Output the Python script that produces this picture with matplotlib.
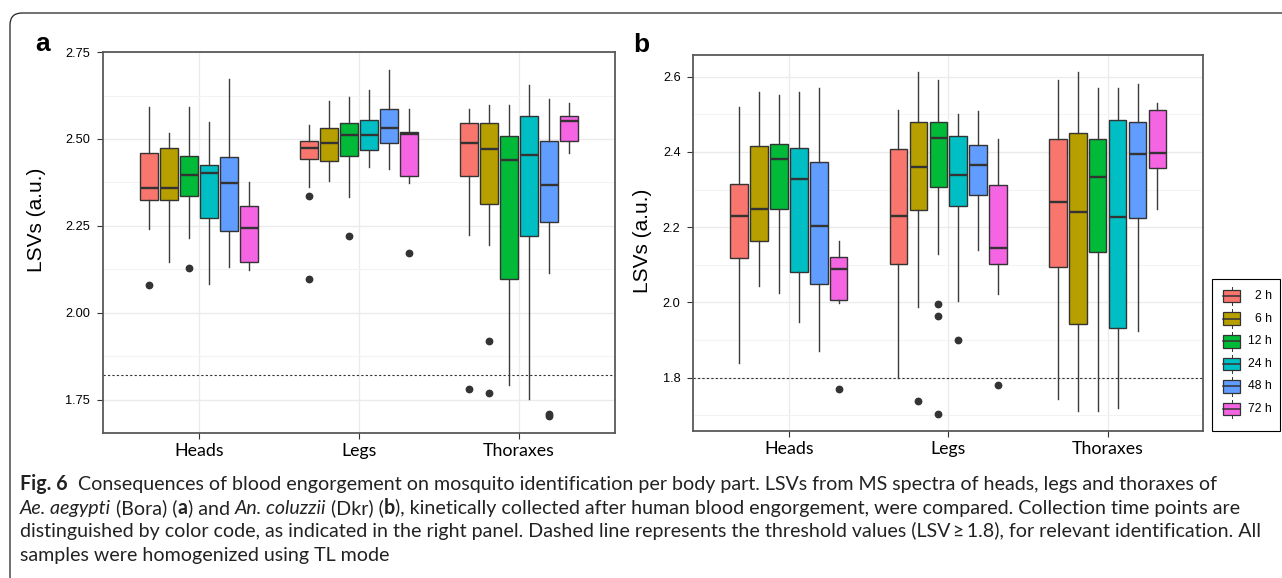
import matplotlib
matplotlib.use("Agg")
import matplotlib.pyplot as plt
from matplotlib.patches import FancyBboxPatch, Rectangle
from matplotlib.ticker import FixedLocator

W, H = 1282, 578
INK = "#333333"; EDGE = "#333333"; FRAME = "#595959"
plt.rcParams.update({"font.family": ["Liberation Sans", "DejaVu Sans"]})

parts = ["Heads", "Legs", "Thoraxes"]
times = ["2 h", "6 h", "12 h", "24 h", "48 h", "72 h"]
colors = ["#F8766D", "#B79F00", "#00BA38", "#00BFC4", "#619CFF", "#F564E3"]

# ---- panel a: Ae. aegypti (rows = times, cols = parts)
a_hi  = [[2.591, 2.541, 2.587], [2.518, 2.610, 2.599], [2.591, 2.622, 2.599],
         [2.549, 2.641, 2.656], [2.672, 2.698, 2.614], [2.377, 2.587, 2.603]]
a_q3  = [[2.460, 2.495, 2.547], [2.475, 2.532, 2.547], [2.452, 2.547, 2.509],
         [2.425, 2.555, 2.567], [2.448, 2.586, 2.494], [2.307, 2.521, 2.567]]
a_med = [[2.359, 2.475, 2.488], [2.359, 2.488, 2.471], [2.397, 2.512, 2.440],
         [2.401, 2.511, 2.454], [2.372, 2.531, 2.367], [2.244, 2.513, 2.551]]
a_q1  = [[2.323, 2.442, 2.392], [2.323, 2.438, 2.312], [2.335, 2.452, 2.098],
         [2.274, 2.468, 2.221], [2.236, 2.487, 2.262], [2.147, 2.392, 2.494]]
a_lo  = [[2.241, 2.361, 2.223], [2.146, 2.379, 2.194], [2.216, 2.334, 1.791],
         [2.082, 2.420, 1.753], [2.131, 2.413, 2.113], [2.124, 2.374, 2.459]]
a_out = [[[2.080], [2.336, 2.098], [1.782]], [[], [], [1.920, 1.770]],
         [[2.128], [2.220], []], [[], [], []], [[], [], [1.703, 1.710]],
         [[], [2.173], []]]
a_thr = 1.82

# ---- panel b: An. coluzzii
b_hi  = [[2.520, 2.510, 2.591], [2.559, 2.612, 2.612], [2.552, 2.591, 2.570],
         [2.559, 2.500, 2.570], [2.570, 2.508, 2.581], [2.163, 2.433, 2.531]]
b_q3  = [[2.315, 2.407, 2.435], [2.416, 2.480, 2.449], [2.420, 2.480, 2.434],
         [2.410, 2.442, 2.484], [2.372, 2.417, 2.480], [2.122, 2.311, 2.510]]
b_med = [[2.230, 2.230, 2.268], [2.247, 2.360, 2.241], [2.380, 2.437, 2.333],
         [2.327, 2.338, 2.227], [2.204, 2.366, 2.395], [2.088, 2.144, 2.397]]
b_q1  = [[2.119, 2.102, 2.094], [2.162, 2.246, 1.942], [2.249, 2.306, 2.133],
         [2.082, 2.257, 1.932], [2.049, 2.285, 2.224], [2.006, 2.102, 2.358]]
b_lo  = [[1.840, 1.799, 1.743], [2.044, 1.989, 1.712], [2.026, 2.128, 1.712],
         [1.949, 2.004, 1.719], [1.871, 2.140, 1.925], [1.998, 2.023, 2.248]]
b_out = [[[], [], []], [[], [1.739], []], [[], [1.996, 1.964, 1.704], []],
         [[], [1.901], []], [[], [], []], [[1.770], [1.780], []]]
b_thr = 1.80


def draw_panel(ax, hi, q3, med, q1, lo, out, thr, ylim, major, minor, fmt):
    slot = 0.75 / len(times)
    for j in range(len(times)):
        pos = [i + 1 + (j - 2.5) * slot for i in range(len(parts))]
        st = [dict(med=med[j][i], q1=q1[j][i], q3=q3[j][i], whislo=lo[j][i],
                   whishi=hi[j][i], fliers=out[j][i]) for i in range(len(parts))]
        ax.bxp(st, positions=pos, widths=slot * 0.88, patch_artist=True, showcaps=False,
               boxprops=dict(facecolor=colors[j], edgecolor=EDGE, linewidth=1.0),
               medianprops=dict(color=EDGE, linewidth=1.7),
               whiskerprops=dict(color="#3a3a3a", linewidth=1.0),
               flierprops=dict(marker="o", markerfacecolor=INK, markeredgecolor=INK,
                               markersize=4.6),
               manage_ticks=False)
    ax.axhline(thr, color=INK, lw=0.8, ls=(0, (2, 2)), zorder=1.5)
    ax.set_xlim(0.4, 3.6); ax.set_ylim(*ylim)
    ax.set_xticks(range(1, len(parts) + 1)); ax.set_xticklabels(parts, family="Lato", fontsize=12.8)
    ax.yaxis.set_major_locator(FixedLocator(major))
    ax.yaxis.set_minor_locator(FixedLocator(minor))
    ax.set_yticklabels([fmt.format(v) for v in major], fontsize=9.2)
    ax.set_axisbelow(True)
    ax.grid(which="major", color="#EBEBEB", lw=1.0)
    ax.grid(which="minor", axis="y", color="#F3F3F3", lw=0.8)
    ax.tick_params(which="major", length=4, width=0.8, color=INK, labelcolor="black")
    ax.tick_params(axis="y", pad=5.2)
    ax.tick_params(axis="x", pad=3.5)
    ax.tick_params(which="minor", length=0)
    for s in ax.spines.values():
        s.set_color(FRAME); s.set_linewidth(1.3)


fig = plt.figure(figsize=(W / 100, H / 100), dpi=100)
ov = fig.add_axes([0, 0, 1, 1], zorder=-1)
ov.set_xlim(0, W); ov.set_ylim(H, 0); ov.axis("off"); ov.patch.set_visible(False)

axA = fig.add_axes([103 / W, 1 - 433 / H, 512 / W, 381 / H])
axB = fig.add_axes([693.3 / W, 1 - 431 / H, 510 / W, 376 / H])
draw_panel(axA, a_hi, a_q3, a_med, a_q1, a_lo, a_out, a_thr, (1.654, 2.7502),
           [1.75, 2.0, 2.25, 2.5, 2.75], [1.875, 2.125, 2.375, 2.625], "{:.2f}")
draw_panel(axB, b_hi, b_q3, b_med, b_q1, b_lo, b_out, b_thr, (1.6586, 2.6574),
           [1.8, 2.0, 2.2, 2.4, 2.6], [1.7, 1.9, 2.1, 2.3, 2.5], "{:.1f}")

# outer rounded frame
ov.add_patch(FancyBboxPatch((10, 13), 1320, 620, boxstyle="round,pad=0,rounding_size=12",
                            fill=False, ec="#222222", lw=0.9))
ov.text(43, 51, "a", fontsize=19, fontweight="bold", ha="center", va="baseline")
ov.text(641, 52, "b", fontsize=19, fontweight="bold", ha="center", va="baseline")
ov.text(37, 220, "LSVs (a.u.)", rotation=90, fontsize=15, ha="center", va="center")
ov.text(643, 241, "LSVs (a.u.)", rotation=90, fontsize=15, ha="center", va="center")

# legend
ov.add_patch(Rectangle((1212.3, 278.7), 67.7, 152, fill=False, ec="black", lw=0.8))
for k, (t, c) in enumerate(zip(times, colors)):
    yc = 296 + 22.6 * k
    ov.add_patch(Rectangle((1223, yc - 6.3), 17, 12.6, fc=c, ec=EDGE, lw=0.9))
    ov.plot([1223, 1240], [yc, yc], color=EDGE, lw=1.1)
    ov.plot([1231.5, 1231.5], [yc - 9.3, yc - 6.3], color=EDGE, lw=0.7)
    ov.plot([1231.5, 1231.5], [yc + 6.3, yc + 9.3], color=EDGE, lw=0.7)
    ov.text(1272, yc, t, ha="right", va="center", fontsize=8.8)

# caption, drawn run by run
cap = [
    [("Fig. 6", "bold", "normal"),
     ("  Consequences of blood engorgement on mosquito identification per body part. "
      "LSVs from MS spectra of heads, legs and thoraxes of", "normal", "normal")],
    [("Ae. aegypti", "normal", "italic"), (" (Bora) (", "normal", "normal"),
     ("a", "bold", "normal"), (") and ", "normal", "normal"),
     ("An. coluzzii", "normal", "italic"), (" (Dkr) (", "normal", "normal"),
     ("b", "bold", "normal"),
     ("), kinetically collected after human blood engorgement, were compared. "
      "Collection time points are", "normal", "normal")],
    [("distinguished by color code, as indicated in the right panel. Dashed line represents "
      "the threshold values (LSV\u2009\u2265\u20091.8), for relevant identification. All",
      "normal", "normal")],
    [("samples were homogenized using TL mode", "normal", "normal")],
]
cap_y = [490, 514, 537.5, 561]
CAPFONT = ["Lato", "DejaVu Sans"]
renderer = fig.canvas.get_renderer()


def width(s, size, weight, style):
    t = ov.text(0, 0, "|" + s + "|", fontsize=size, fontweight=weight, fontstyle=style, family=CAPFONT)
    t2 = ov.text(0, 0, "||", fontsize=size, fontweight=weight, fontstyle=style, family=CAPFONT)
    w = t.get_window_extent(renderer).width - t2.get_window_extent(renderer).width
    t.remove(); t2.remove()
    return w


ref = sum(width(s, 10, wt, sty) for s, wt, sty in cap[2])
size = 10 * 1242 / ref
for runs, y in zip(cap, cap_y):
    x = 20
    for s, wt, sty in runs:
        ov.text(x, y, s, fontsize=size, fontweight=wt, fontstyle=sty, family=CAPFONT,
                ha="left", va="baseline", color="#222222")
        x += width(s, size, wt, sty)

fig.savefig("out.png", dpi=100, facecolor="white")
